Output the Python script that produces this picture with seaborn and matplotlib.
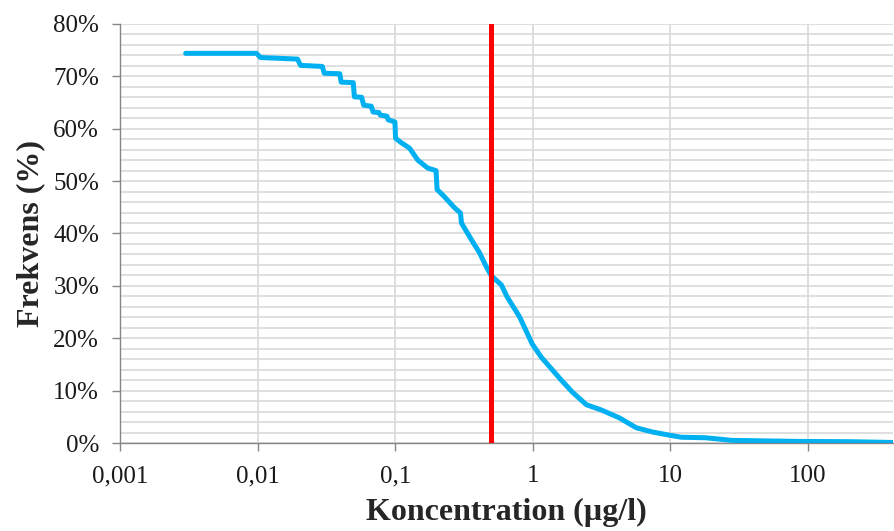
import matplotlib
matplotlib.use("Agg")
import matplotlib.pyplot as plt
import matplotlib.ticker as mticker
import seaborn as sns
import pandas as pd

# Data (concentration in µg/l, exceedance frequency in %)
concentration = [0.003, 0.0098, 0.0105, 0.0195, 0.0205, 0.0295, 0.0305, 0.0395,
                 0.0405, 0.0495, 0.0505, 0.057, 0.059, 0.067, 0.069, 0.076,
                 0.078, 0.087, 0.089, 0.0995, 0.1005, 0.111, 0.127, 0.146,
                 0.172, 0.198, 0.2015, 0.228, 0.27, 0.298, 0.303, 0.358,
                 0.41, 0.46, 0.5, 0.59, 0.65, 0.8, 0.99, 1.15,
                 1.61, 1.94, 2.45, 3.15, 4.25, 5.65, 7.4, 9.8,
                 12, 18, 28, 86, 200, 414]
frequency = [74.4, 74.4, 73.6, 73.3, 72.1, 71.9, 70.6, 70.5,
             68.9, 68.8, 66.1, 66.0, 64.5, 64.3, 63.2, 63.1,
             62.6, 62.4, 61.7, 61.3, 58.2, 57.3, 56.3, 54.0,
             52.5, 52.0, 48.4, 47.0, 44.9, 43.9, 42.0, 38.8,
             36.3, 33.6, 31.9, 30.2, 27.9, 24.1, 18.9, 16.4,
             12.0, 9.7, 7.3, 6.3, 4.8, 2.9, 2.1, 1.5,
             1.1, 1.0, 0.5, 0.3, 0.25, 0.1]
threshold = 0.5
x_ticks = [0.001, 0.01, 0.1, 1, 10, 100]
x_tick_labels = ["0,001", "0,01", "0,1", "1", "10", "100"]
y_ticks = [0, 10, 20, 30, 40, 50, 60, 70, 80]
y_tick_labels = [f"{v}%" for v in y_ticks]

df = pd.DataFrame({"conc": concentration, "freq": frequency})

sns.set_theme(style="white")
plt.rcParams["font.family"] = ["Liberation Serif", "DejaVu Serif"]

fig = plt.figure(figsize=(8.94, 5.31), dpi=100)
ax = fig.add_axes([120 / 894, 1 - 443 / 531, 773 / 894, (443 - 24) / 531])

ax.set_xscale("log")
ax.set_xlim(0.001, 414)
ax.set_ylim(0, 80)

# gridlines
ax.set_yticks(range(0, 81, 2), minor=True)
ax.grid(True, which="major", axis="x", color="#d9d9d9", linewidth=1.2, zorder=0)
ax.grid(True, which="both", axis="y", color="#d9d9d9", linewidth=1.2, zorder=0)
ax.set_axisbelow(True)

sns.lineplot(data=df, x="conc", y="freq", ax=ax, color="#00b0f0",
             linewidth=3.6, estimator=None, sort=False, zorder=3)
ax.axvline(threshold, color="#ff0000", linewidth=3.6, zorder=4)

ax.set_xticks(x_ticks)
ax.set_xticklabels(x_tick_labels)
ax.xaxis.set_minor_locator(mticker.NullLocator())
ax.set_yticks(y_ticks)
ax.set_yticklabels(y_tick_labels)

ax.tick_params(axis="both", which="major", labelsize=18, colors="#868686",
               labelcolor="#1a1a1a", length=6, width=1, direction="out",
               bottom=True, left=True)
ax.tick_params(axis="y", which="minor", length=0, left=False)
ax.tick_params(axis="x", pad=10)
ax.tick_params(axis="y", pad=9)

for s in ["top", "right"]:
    ax.spines[s].set_visible(False)
for s in ["left", "bottom"]:
    ax.spines[s].set_color("#868686")
    ax.spines[s].set_linewidth(1)

ax.set_xlabel("Koncentration (µg/l)", fontsize=23, fontweight="bold", labelpad=8)
ax.set_ylabel("Frekvens (%)", fontsize=23, fontweight="bold", labelpad=6)

fig.savefig("out.png", dpi=100)
